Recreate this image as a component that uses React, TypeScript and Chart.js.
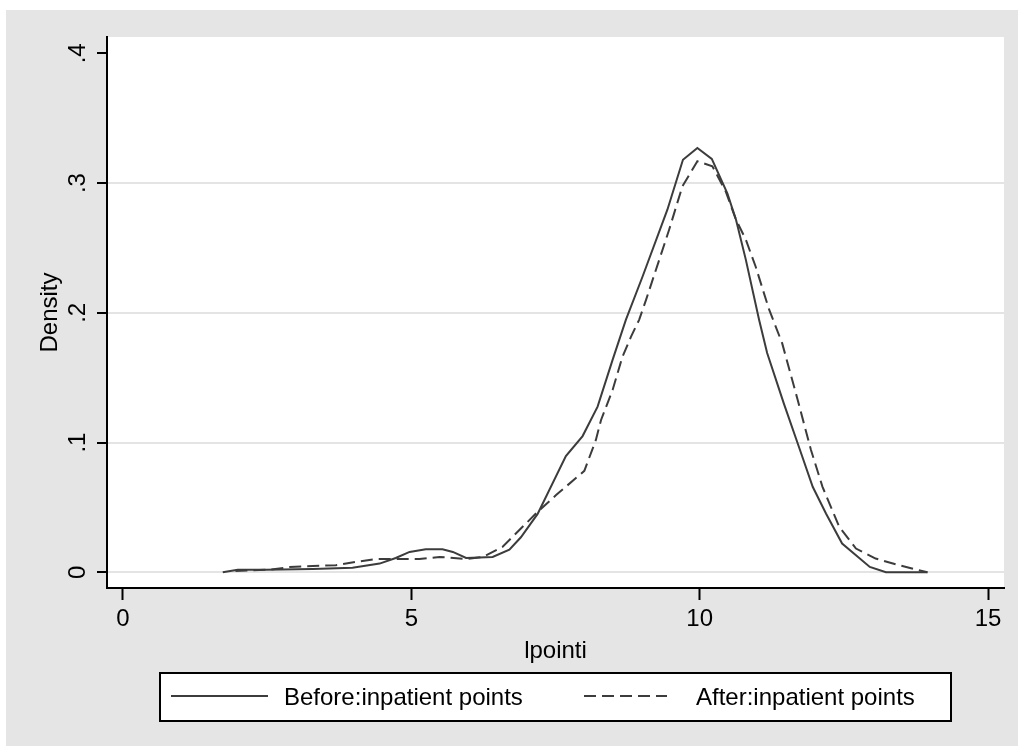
import React, { useEffect, useRef } from "react";
import { Chart, registerables } from "chart.js";

Chart.register(...registerables);

// ---- data ----
const beforeX = [1.73, 1.99, 2.48, 3.29, 3.98, 4.45, 4.73, 4.97, 5.25, 5.54, 5.72, 5.95, 6.41, 6.7, 6.9, 7.19, 7.68, 7.97, 8.23, 8.49, 8.72, 9.01, 9.44, 9.71, 9.96, 10.21, 10.48, 10.63, 10.8, 11.03, 11.17, 11.46, 11.72, 11.96, 12.19, 12.47, 12.95, 13.23, 13.95];
const beforeY = [0, 0.002, 0.002, 0.0025, 0.0035, 0.0067, 0.011, 0.0157, 0.0178, 0.0178, 0.0157, 0.011, 0.0118, 0.0175, 0.027, 0.045, 0.0896, 0.105, 0.1277, 0.1637, 0.1946, 0.228, 0.2795, 0.318, 0.327, 0.3187, 0.292, 0.2718, 0.241, 0.1946, 0.169, 0.13, 0.0968, 0.0659, 0.0453, 0.0222, 0.0041, 0, 0];

const afterX = [1.95, 2.54, 2.89, 3.29, 3.69, 4.04, 4.39, 4.73, 5.14, 5.49, 5.95, 6.24, 6.58, 7.16, 7.51, 8.0, 8.2, 8.29, 8.49, 8.66, 8.81, 8.95, 9.07, 9.47, 9.7, 9.96, 10.22, 10.45, 10.63, 10.8, 10.97, 11.2, 11.43, 11.7, 11.93, 12.13, 12.42, 12.71, 13.05, 13.46, 13.95];
const afterY = [0.001, 0.002, 0.004, 0.0049, 0.0054, 0.008, 0.0103, 0.0103, 0.0103, 0.0118, 0.0103, 0.0118, 0.0195, 0.0453, 0.0595, 0.0782, 0.102, 0.1174, 0.1405, 0.166, 0.1817, 0.1946, 0.21, 0.264, 0.2975, 0.3168, 0.313, 0.2937, 0.2718, 0.2564, 0.2357, 0.203, 0.1766, 0.1328, 0.0942, 0.0659, 0.035, 0.0183, 0.0106, 0.0054, 0];

const seriesLabels = ["Before:inpatient points", "After:inpatient points"];
const xTicks = [0, 5, 10, 15];
const xTickLabels = ["0", "5", "10", "15"];
const yTicks = [0, 0.1, 0.2, 0.3, 0.4];
const yTickLabels = ["0", ".1", ".2", ".3", ".4"];
const xTitle = "lpointi";
const yTitle = "Density";

const FONT = '"Liberation Sans", Arial, Helvetica, sans-serif';
const LINE_COLOR = "#3c3c3c";
const BG_GRAY = "#e5e5e5";
const GRID_GRAY = "#e4e4e4";

const bgPlugin = {
  id: "stataBackground",
  beforeDraw(chart: any) {
    const { ctx, width, height, chartArea } = chart;
    ctx.save();
    ctx.fillStyle = "#ffffff";
    ctx.fillRect(0, 0, width, height);
    ctx.fillStyle = BG_GRAY;
    ctx.fillRect(6, 10, width - 6, height - 10);
    ctx.fillStyle = "#ffffff";
    ctx.fillRect(chartArea.left, chartArea.top, chartArea.right - chartArea.left, chartArea.bottom - chartArea.top);
    ctx.restore();
  },
};

const legendPlugin = {
  id: "boxLegend",
  afterDraw(chart: any) {
    const ctx = chart.ctx;
    const box = { x: 160, y: 673, w: 791, h: 48 };
    const items = [
      { x1: 171, x2: 268, tx: 284 },
      { x1: 584, x2: 667, tx: 696 },
    ];
    const midY = box.y + box.h / 2 - 1;
    ctx.save();
    ctx.fillStyle = "#ffffff";
    ctx.fillRect(box.x, box.y, box.w, box.h);
    ctx.strokeStyle = "#000000";
    ctx.lineWidth = 2;
    ctx.strokeRect(box.x, box.y, box.w, box.h);
    chart.data.datasets.forEach((ds: any, i: number) => {
      const it = items[i];
      ctx.beginPath();
      ctx.setLineDash(ds.borderDash || []);
      ctx.strokeStyle = ds.borderColor;
      ctx.lineWidth = ds.borderWidth;
      ctx.moveTo(it.x1, midY);
      ctx.lineTo(it.x2, midY);
      ctx.stroke();
      ctx.setLineDash([]);
      ctx.fillStyle = "#000000";
      ctx.font = `24px ${FONT}`;
      ctx.textAlign = "left";
      ctx.textBaseline = "alphabetic";
      ctx.fillText(ds.label, it.tx, midY + 8.5);
    });
    ctx.restore();
  },
};

export default function App() {
  const canvasRef = useRef<HTMLCanvasElement | null>(null);

  useEffect(() => {
    if (!canvasRef.current) return;
    Chart.defaults.font.family = FONT;
    const chart = new Chart(canvasRef.current, {
      type: "line",
      data: {
        datasets: [
          {
            label: seriesLabels[0],
            data: beforeX.map((x, i) => ({ x, y: beforeY[i] })),
            borderColor: LINE_COLOR,
            borderWidth: 2,
            pointRadius: 0,
            tension: 0,
            fill: false,
          },
          {
            label: seriesLabels[1],
            data: afterX.map((x, i) => ({ x, y: afterY[i] })),
            borderColor: LINE_COLOR,
            borderWidth: 2,
            borderDash: [12, 6],
            pointRadius: 0,
            tension: 0,
            fill: false,
          },
        ],
      },
      options: {
        responsive: false,
        devicePixelRatio: 1,
        animation: false,
        layout: { padding: { left: 0, top: 37, right: 14, bottom: 0 } },
        plugins: {
          legend: { display: false },
          tooltip: { enabled: false },
        },
        scales: {
          x: {
            type: "linear",
            position: "bottom",
            min: -0.277,
            max: 15.277,
            afterBuildTicks: (s: any) => {
              s.ticks = xTicks.map((v) => ({ value: v }));
            },
            afterFit: (s: any) => {
              s.height = 158;
            },
            ticks: {
              autoSkip: false,
              maxRotation: 0,
              minRotation: 0,
              padding: 5,
              color: "#000",
              font: { size: 24, family: FONT },
              callback: (v: any) => xTickLabels[xTicks.indexOf(Number(v))],
            },
            grid: {
              drawOnChartArea: false,
              drawTicks: true,
              tickLength: 12,
              tickColor: "#000",
              tickWidth: 2,
            },
            border: { display: true, color: "#000", width: 2 },
            title: {
              display: true,
              text: xTitle,
              color: "#000",
              font: { size: 24, family: FONT },
              padding: { top: 0, bottom: 80 },
            },
          },
          y: {
            type: "linear",
            position: "left",
            min: -0.0121,
            max: 0.4126,
            afterBuildTicks: (s: any) => {
              s.ticks = yTicks.map((v) => ({ value: v }));
            },
            afterFit: (s: any) => {
              s.width = 107;
            },
            ticks: {
              autoSkip: false,
              minRotation: 90,
              maxRotation: 90,
              crossAlign: "center",
              padding: 9,
              color: "#000",
              font: { size: 24, family: FONT },
              callback: (v: any) => yTickLabels[yTicks.indexOf(Number(v))],
            },
            grid: {
              drawOnChartArea: true,
              color: (c: any) => (c.tick && c.tick.value === 0.4 ? "rgba(0,0,0,0)" : GRID_GRAY),
              lineWidth: 2,
              drawTicks: true,
              tickLength: 10,
              tickColor: "#000",
              tickWidth: 2,
            },
            border: { display: true, color: "#000", width: 2 },
            title: {
              display: true,
              text: yTitle,
              color: "#000",
              font: { size: 24, family: FONT },
              padding: { top: 36, bottom: 0 },
            },
          },
        },
      },
      plugins: [bgPlugin, legendPlugin],
    } as any);
    return () => chart.destroy();
  }, []);

  return (
    <div style={{ position: "absolute", left: 0, top: 0, width: 1018, height: 746 }}>
      <canvas ref={canvasRef} width={1018} height={746} style={{ display: "block", width: 1018, height: 746 }} />
    </div>
  );
}
